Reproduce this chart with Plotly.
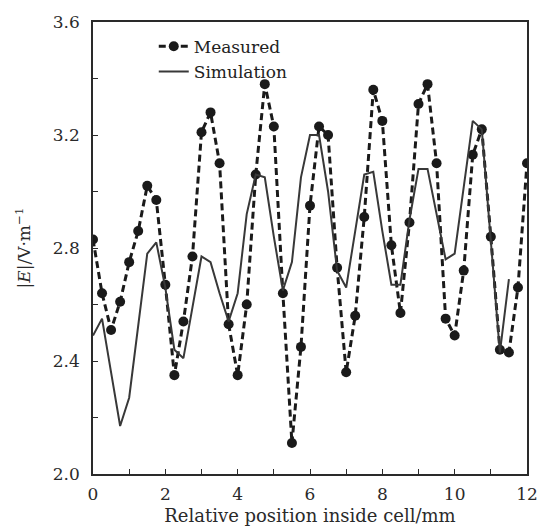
import plotly.graph_objects as go

# Measured data (0.25 mm steps)
measured_x = [i * 0.25 for i in range(49)]
measured_y = [2.83, 2.64, 2.51, 2.61, 2.75, 2.86, 3.02, 2.97, 2.67, 2.35, 2.54, 2.77,
              3.21, 3.28, 3.10, 2.53, 2.35, 2.60, 3.06, 3.38, 3.23, 2.64, 2.11, 2.45,
              2.95, 3.23, 3.20, 2.73, 2.36, 2.56, 2.91, 3.36, 3.25, 2.81, 2.57, 2.89,
              3.31, 3.38, 3.10, 2.55, 2.49, 2.72, 3.13, 3.22, 2.84, 2.44, 2.43, 2.66, 3.10]

# Simulation data
sim_x = [i * 0.25 for i in range(47)]
sim_y = [2.49, 2.55, 2.36, 2.17, 2.27, 2.53, 2.78, 2.82, 2.66, 2.44, 2.41, 2.59,
         2.77, 2.75, 2.64, 2.54, 2.64, 2.92, 3.06, 3.05, 2.84, 2.65, 2.75, 3.05,
         3.20, 3.20, 3.00, 2.72, 2.66, 2.86, 3.06, 3.07, 2.86, 2.67, 2.67, 2.90,
         3.08, 3.08, 2.92, 2.76, 2.78, 3.02, 3.25, 3.22, 2.84, 2.43, 2.69]

x_title = "Relative position inside cell/mm"
y_title = "|<i>E</i>|/V·m<sup>−1</sup>"

font_family = "DejaVu Serif, Liberation Serif, serif"
ink = "#2a2a2a"

fig = go.Figure()
fig.add_trace(go.Scatter(
    x=measured_x, y=measured_y, mode="lines+markers", name="Measured",
    line=dict(color="#1a1a1a", width=3, dash="7px,4px"),
    marker=dict(color="#1a1a1a", size=10, symbol="circle"),
))
fig.add_trace(go.Scatter(
    x=sim_x, y=sim_y, mode="lines", name="Simulation",
    line=dict(color="#383838", width=2),
))

axis_common = dict(
    showline=True, linecolor=ink, linewidth=1.5, mirror=True,
    ticks="inside", ticklen=5, tickcolor=ink, tickwidth=1.2,
    showgrid=False, zeroline=False, automargin=False,
    ticklabeloverflow="allow",
    tickfont=dict(family=font_family, size=17, color=ink),
)

fig.update_layout(
    width=540, height=528,
    margin=dict(l=93, r=13, t=22, b=54),
    paper_bgcolor="white", plot_bgcolor="white",
    font=dict(family=font_family, size=17, color=ink),
    xaxis=dict(range=[0, 12], dtick=2, tick0=0, ticklabelstandoff=4,
               minor=dict(dtick=1, ticks="inside", ticklen=5, tickcolor=ink),
               title=dict(text=x_title, font=dict(family=font_family, size=18, color=ink), standoff=6),
               **axis_common),
    yaxis=dict(range=[2.0, 3.6], dtick=0.4, tick0=2.0, tickformat=".1f", ticklabelstandoff=8,
               minor=dict(dtick=0.2, ticks="inside", ticklen=5, tickcolor=ink),
               title=dict(text=y_title, font=dict(family=font_family, size=17, color=ink), standoff=18),
               **axis_common),
    legend=dict(x=0.14, y=0.985, xanchor="left", yanchor="top",
                bgcolor="rgba(255,255,255,0)", borderwidth=0,
                font=dict(family=font_family, size=17, color="#222222"),
                tracegroupgap=0),
    showlegend=True,
)

fig.write_html("out.html", config={"displayModeBar": False},
               post_script="document.body.style.margin='0';")
